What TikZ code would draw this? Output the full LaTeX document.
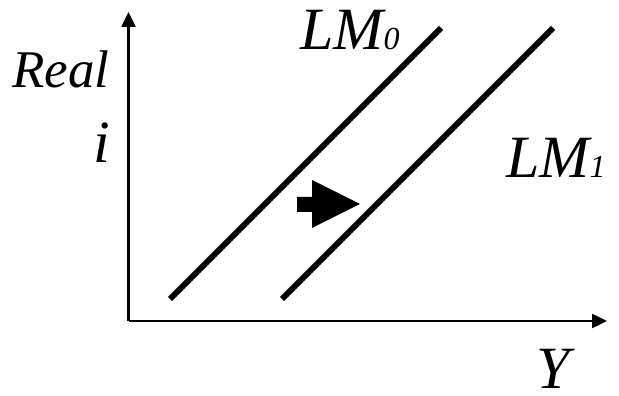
\documentclass[tikz,border=0pt]{standalone}
\usepackage{fontspec}
\setmainfont{Liberation Serif}
\usetikzlibrary{arrows.meta}

\begin{document}
\begin{tikzpicture}[x=1pt, y=1pt, >={Triangle[length=15pt, width=14pt]},
  axis/.style={line width=2.5pt},
  curve/.style={line width=6pt},
  lbl/.style={inner sep=0pt, anchor=base west, font=\itshape}]
  \useasboundingbox (0,0) rectangle (619,396);
  \coordinate (O) at (128.5,75);
  \coordinate (Yend) at (607,75);
  \coordinate (Iend) at (128.5,384);
  \coordinate (A) at (170,97);
  \coordinate (B) at (441,368);
  \coordinate (C) at (282,97);
  \coordinate (D) at (553,368);
  % ejes
  \draw[axis, ->] (O) -- (Yend);
  \draw[axis, ->] (O) -- (Iend);
  % curvas LM
  \draw[curve] (A) -- (B);
  \draw[curve] (C) -- (D);
  % desplazamiento
  \fill (297,199) -- (312,199) -- (312,216) -- (360,192) -- (312,168)
        -- (312,184) -- (297,184) -- cycle;
  \node[lbl, font=\itshape\fontsize{53}{53}\selectfont] (real) at (12,308) {Real};
  \node[lbl, font=\itshape\fontsize{60}{60}\selectfont] (i) at (93,233) {i};
  \node[lbl, font=\itshape\fontsize{60}{60}\selectfont] (lm0) at (300,346)
    {LM{\fontsize{32}{32}\selectfont 0}};
  \node[lbl, font=\itshape\fontsize{60}{60}\selectfont] (lm1) at (506,218)
    {LM{\fontsize{32}{32}\selectfont 1}};
  \node[lbl, font=\itshape\fontsize{60}{60}\selectfont] (y) at (536,7) {Y};
\end{tikzpicture}
\end{document}
